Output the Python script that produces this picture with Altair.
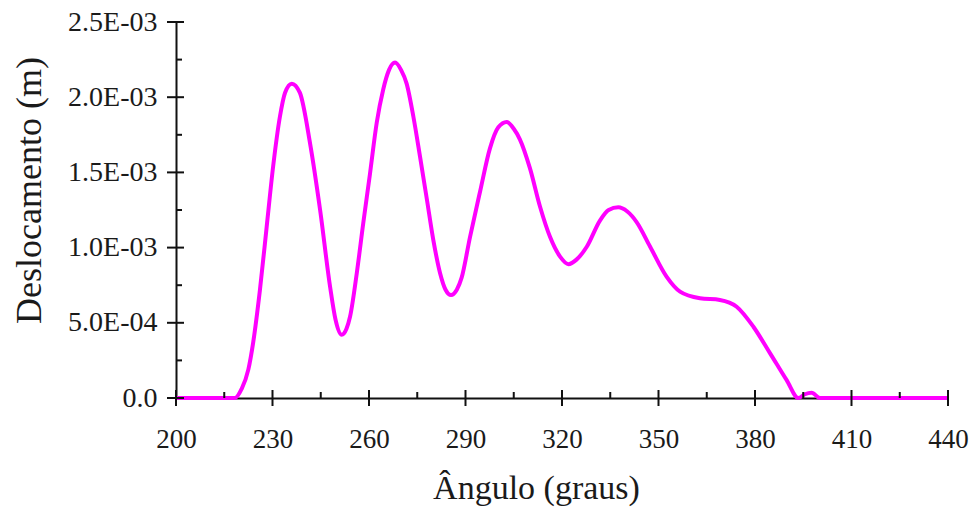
import altair as alt
import pandas as pd

# Displacement curve (angle in degrees, displacement in metres)
angle_deg = [200, 210, 218.3, 220.4, 222.5, 224.0, 226.1, 228.2, 230.2, 232.3, 233.9,
             236.0, 238.5, 241.7, 244.8, 247.9, 249.6, 251.5, 253.0, 254.1, 256.2,
             258.2, 260.3, 262.4, 264.4, 266.2, 268.1, 270.0, 271.7, 273.8, 275.9,
             278.0, 280.0, 282.1, 283.8, 285.5, 287.3, 288.8, 291.4, 294.5, 297.6,
             300.2, 302.8, 305.0, 306.9, 310.0, 313.2, 316.3, 319.4, 322.0, 324.5,
             327.7, 331.8, 334.5, 337.5, 340.3, 343.2, 347.4, 352.5, 356.7, 362.9,
             369.1, 374.3, 379.5, 384.7, 389.8, 393.5, 395.5, 397.6, 400.2, 420, 440]
displacement = [0, 0, 0, 0.06e-3, 0.19e-3, 0.37e-3, 0.72e-3, 1.14e-3, 1.54e-3, 1.87e-3, 2.03e-3,
                2.09e-3, 2.03e-3, 1.69e-3, 1.25e-3, 0.74e-3, 0.52e-3, 0.42e-3, 0.46e-3, 0.54e-3, 0.83e-3,
                1.16e-3, 1.49e-3, 1.83e-3, 2.05e-3, 2.18e-3, 2.23e-3, 2.18e-3, 2.09e-3, 1.87e-3, 1.60e-3,
                1.32e-3, 1.05e-3, 0.83e-3, 0.72e-3, 0.685e-3, 0.72e-3, 0.80e-3, 1.07e-3, 1.37e-3, 1.66e-3,
                1.80e-3, 1.835e-3, 1.79e-3, 1.72e-3, 1.53e-3, 1.27e-3, 1.07e-3, 0.94e-3, 0.89e-3, 0.92e-3,
                1.006e-3, 1.18e-3, 1.25e-3, 1.268e-3, 1.24e-3, 1.17e-3, 1.006e-3, 0.807e-3, 0.707e-3, 0.663e-3,
                0.652e-3, 0.607e-3, 0.474e-3, 0.297e-3, 0.12e-3, 0, 0.025e-3, 0.035e-3, 0, 0, 0]

# Axis ticks and labels
x_major = [200, 230, 260, 290, 320, 350, 380, 410, 440]
x_minor = [215, 245, 275, 305, 335, 365, 395, 425]
y_major = [0, 0.0005, 0.0010, 0.0015, 0.0020, 0.0025]
y_minor = [0.00025, 0.00075, 0.00125, 0.00175, 0.00225]
y_labels = ["0.0", "5.0E-04", "1.0E-03", "1.5E-03", "2.0E-03", "2.5E-03"]

W, H = 772, 376
FONT = "Liberation Serif"
INK = "#1a1a1a"

xscale = alt.Scale(domain=[200, 440], nice=False, zero=False)
yscale = alt.Scale(domain=[0, 0.0025], nice=False)

label_expr = "[" + ",".join(f"'{s}'" for s in y_labels) + "][round(datum.value / 0.0005)]"

curve = pd.DataFrame({"angle": angle_deg, "disp": displacement})

x_axis = alt.Axis(values=x_major, ticks=False, grid=False, domain=True,
                  domainColor="#111", domainWidth=2,
                  labelFont=FONT, labelFontSize=27, labelColor=INK,
                  labelPadding=28, labelFlush=False,
                  title="Ângulo (graus)", titleFont=FONT, titleFontSize=34,
                  titleFontWeight="normal", titleColor=INK,
                  titleBaseline="alphabetic", titleX=360, titleY=100)
y_axis = alt.Axis(values=y_major, ticks=False, grid=False, domain=True,
                  domainColor="#111", domainWidth=2,
                  labelFont=FONT, labelFontSize=28, labelColor=INK,
                  labelPadding=19, labelExpr=label_expr, labelFlush=False,
                  title="Deslocamento (m)", titleFont=FONT, titleFontSize=36,
                  titleFontWeight="normal", titleColor=INK,
                  titleBaseline="alphabetic", titleX=-136, titleY=168)

line = alt.Chart(curve).mark_line(
    color="#FF00FF", strokeWidth=4, interpolate="monotone", clip=False
).encode(
    x=alt.X("angle:Q", scale=xscale, axis=x_axis),
    y=alt.Y("disp:Q", scale=yscale, axis=y_axis),
)

tick_color = "#111"

# Major ticks cross the axis lines; minor ticks point into the plot
xmaj = alt.Chart(pd.DataFrame({"angle": x_major})).mark_rule(color=tick_color, strokeWidth=2).encode(
    x=alt.X("angle:Q", scale=xscale), y=alt.value(H - 8), y2=alt.value(H + 8))
xmin = alt.Chart(pd.DataFrame({"angle": x_minor})).mark_rule(color=tick_color, strokeWidth=2).encode(
    x=alt.X("angle:Q", scale=xscale), y=alt.value(H - 6), y2=alt.value(H))
ymaj = alt.Chart(pd.DataFrame({"disp": y_major})).mark_rule(color=tick_color, strokeWidth=2).encode(
    y=alt.Y("disp:Q", scale=yscale), x=alt.value(-9), x2=alt.value(8))
ymin = alt.Chart(pd.DataFrame({"disp": y_minor})).mark_rule(color=tick_color, strokeWidth=2).encode(
    y=alt.Y("disp:Q", scale=yscale), x=alt.value(0), x2=alt.value(6))

chart = alt.layer(line, xmaj, xmin, ymaj, ymin).properties(
    width=W, height=H,
    autosize=alt.AutoSizeParams(type="none"),
    padding={"left": 176, "top": 22, "right": 21, "bottom": 110},
    background="white",
).configure_view(stroke=None)

chart.save("out.html", embed_options={"renderer": "svg", "actions": False})
